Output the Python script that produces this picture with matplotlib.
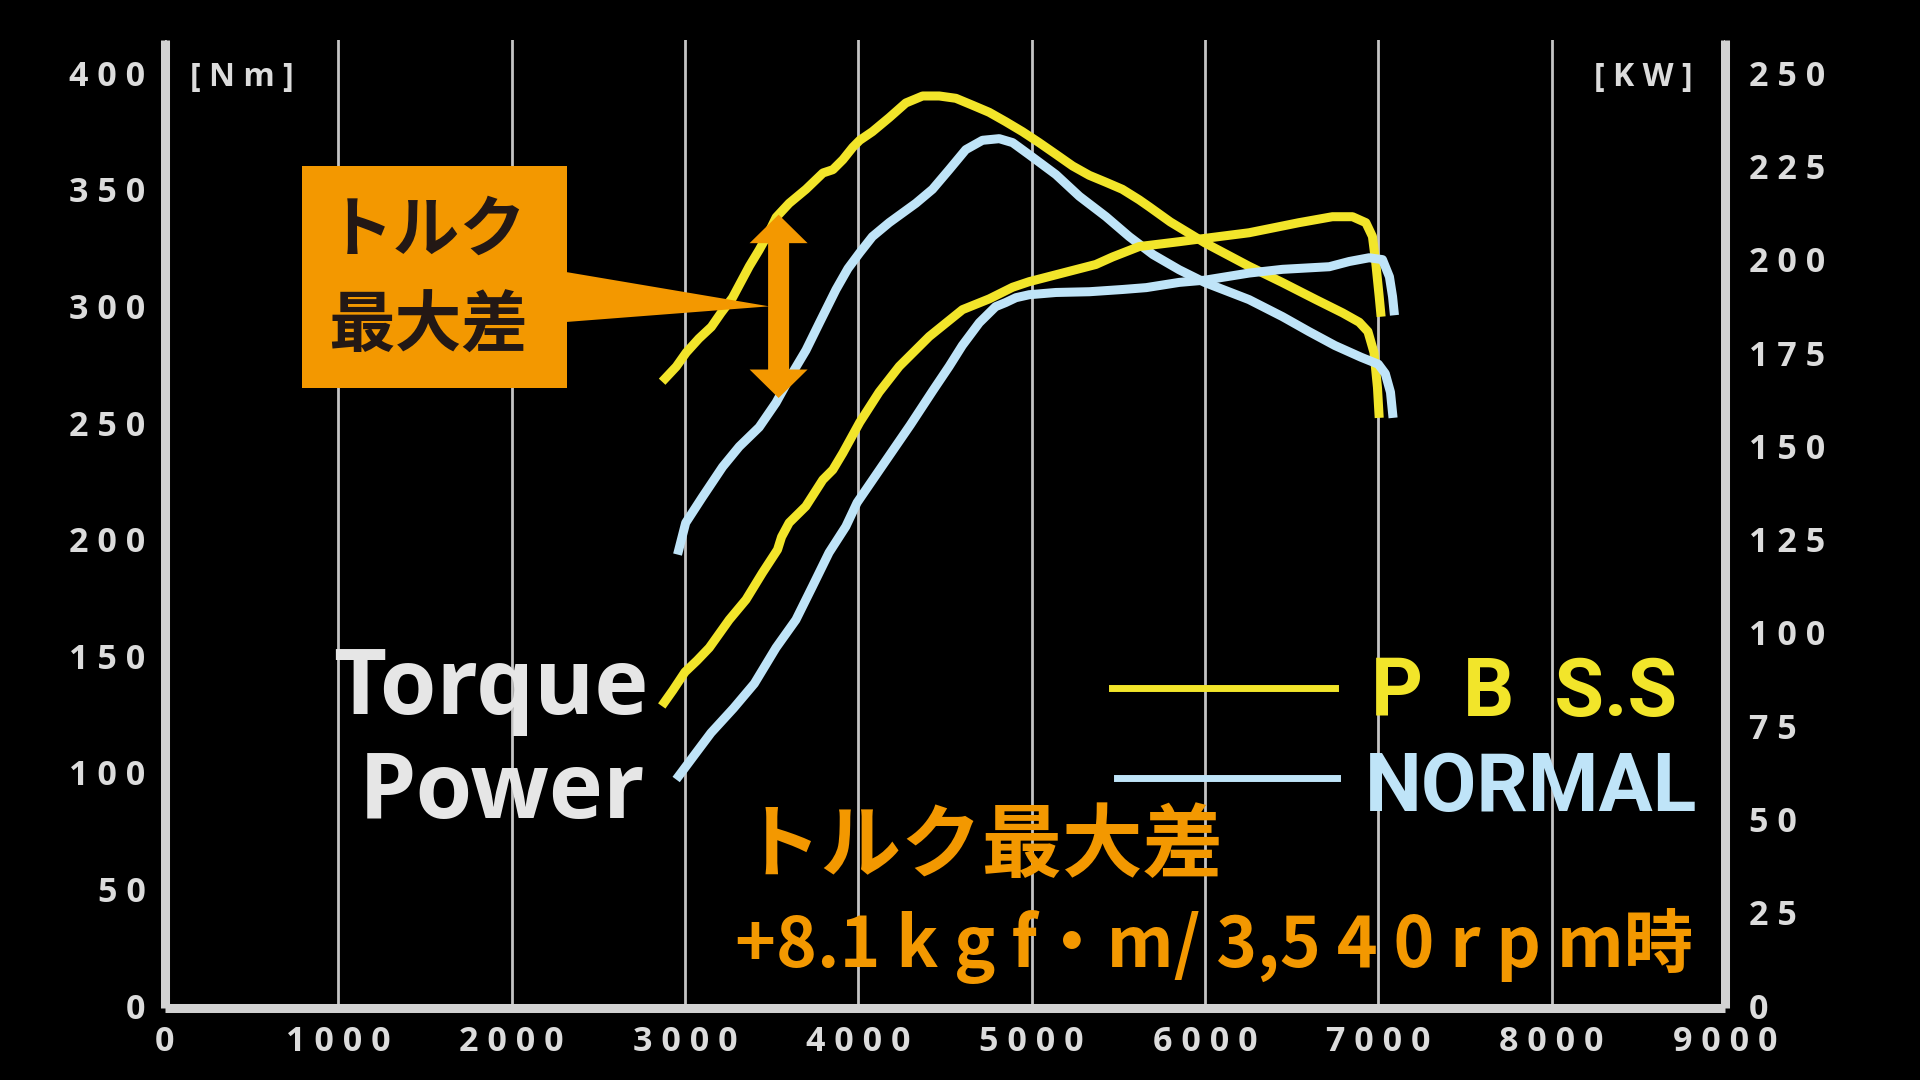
import numpy as np
import matplotlib
matplotlib.use("Agg")
import matplotlib.pyplot as plt
from matplotlib.patches import Polygon, Rectangle
from matplotlib.transforms import Affine2D
from matplotlib.lines import Line2D

# ---------------- data ----------------
rpm_ticks = list(range(0, 10000, 1000))
torque_ticks = list(range(0, 450, 50))
power_ticks = list(range(0, 275, 25))

pbss_torque_rpm = [2868, 2950, 3007, 3080, 3152, 3208, 3274, 3371, 3428, 3480, 3526, 3601, 3698,
                   3796, 3853, 3911, 3968, 4008, 4081, 4178, 4274, 4371, 4467, 4563, 4660, 4755,
                   4850, 4947, 5043, 5140, 5236, 5332, 5429, 5523, 5620, 5678, 5800, 6000, 6254,
                   6447, 6640, 6794, 6890, 6940, 6975, 6995, 7005]
pbss_torque = [267.5, 274, 280, 286, 291, 297, 303.5, 317, 324, 331, 338, 344, 350,
               357, 358.4, 362.7, 368, 371, 374.7, 380.7, 387, 390, 390, 389, 386, 383,
               379, 374.7, 370, 365, 360, 356, 353, 350, 345.5, 342.5, 336, 327, 317,
               310, 302.7, 297, 293, 289, 280, 265, 252]

normal_torque_rpm = [2957, 3004, 3100, 3217, 3313, 3428, 3525, 3621, 3698, 3776, 3871, 3940,
                     4008, 4081, 4178, 4332, 4428, 4524, 4620, 4716, 4813, 4890, 4986, 5140,
                     5275, 5428, 5563, 5700, 5851, 6000, 6254, 6447, 6600, 6750, 6900, 7000,
                     7040, 7070, 7085]
normal_torque = [193.4, 207, 218, 231, 239.7, 248, 258.5, 271.4, 281, 292.8, 307, 316,
                 322.8, 329.7, 335.7, 344, 350, 358.4, 367, 371, 371.7, 370, 364.8, 356.3,
                 347, 338.3, 329.7, 322, 315.5, 310, 302.7, 295.4, 289, 283, 278, 275,
                 271, 263, 252]

pbss_power_rpm = [2866, 2930, 3000, 3070, 3140, 3255, 3352, 3447, 3534, 3557, 3601, 3697, 3795,
                  3853, 3911, 4008, 4120, 4236, 4409, 4601, 4756, 4890, 4986, 5178, 5370, 5466,
                  5620, 5850, 6000, 6254, 6542, 6735, 6851, 6928, 6966, 6985, 7005, 7016]
pbss_power = [80.3, 84.5, 89.4, 92.5, 95.9, 103.4, 108.8, 116.0, 122.2, 125.6, 129.4, 133.8, 140.9,
              143.6, 148.1, 156.3, 164.4, 171.3, 179.3, 186.5, 189.4, 192.5, 194.0, 196.3, 198.6, 200.6,
              203.4, 204.7, 205.6, 207.1, 209.8, 211.4, 211.4, 209.8, 206.1, 199.1, 190.0, 184.6]

normal_power_rpm = [2949, 3050, 3150, 3280, 3400, 3525, 3640, 3735, 3831, 3928, 3993, 4130, 4300,
                    4430, 4524, 4600, 4698, 4792, 4850, 4909, 4986, 5140, 5333, 5525, 5661, 5851,
                    6000, 6254, 6447, 6717, 6832, 6947, 7024, 7064, 7082, 7093]
normal_power = [60.6, 66.9, 73.1, 79.7, 86.3, 95.9, 103.4, 112.3, 121.4, 128.4, 134.8, 144.1, 155.6,
                164.8, 171.3, 176.9, 183.0, 187.3, 188.4, 189.7, 190.5, 191.1, 191.3, 191.9, 192.4, 193.8,
                194.4, 196.3, 197.3, 198.0, 199.4, 200.4, 199.9, 195.3, 190.0, 185.0]

diff_rpm = 3540
series_labels = ["P  B  S.S", "NORMAL"]

# ---------------- style ----------------
YELLOW = "#f2e52a"
BLUE = "#bfe4f8"
ORANGE = "#f39800"
GRAY = "#dcdcdc"
GRID = "#c4c4c4"
DARK = "#231815"
JP = ["Noto Sans CJK JP", "DejaVu Sans"]
LAT = ["Open Sans", "DejaVu Sans"]
ROB = ["Roboto", "DejaVu Sans"]

W, H = 1920, 1080
fig = plt.figure(figsize=(19.2, 10.8), dpi=100, facecolor="black")
PX = Affine2D().scale(1 / W, -1 / H).translate(0, 1) + fig.transFigure  # image pixels, y down

ax = fig.add_axes([165 / W, 1 - 1008 / H, 1560 / W, (1008 - 40) / H])
ax.set_facecolor("black")
ax.set_xlim(0, 9000)
ax.set_ylim(-1, 414)
ax2 = ax.twinx()
ax2.set_ylim(-1 * 0.625, 414 * 0.625)

for a in (ax, ax2):
    for s in a.spines.values():
        s.set_visible(False)
for side in ("left", "bottom", "right"):
    sp = ax.spines[side]
    sp.set_visible(True)
    sp.set_color("#d2d2d2")
    sp.set_linewidth(6.5)
    sp.set_capstyle("butt")

ax.set_xticks(rpm_ticks)
ax.set_xticklabels([" ".join(str(v)) if v else "0" for v in rpm_ticks])
ax.set_yticks(torque_ticks)
ax.set_yticklabels([" ".join(str(v)) for v in torque_ticks])
ax2.set_yticks(power_ticks)
ax2.set_yticklabels([" ".join(str(v)) for v in power_ticks])
ax.tick_params(axis="x", length=0, pad=12, labelsize=24.5, labelcolor=GRAY)
ax.tick_params(axis="y", length=0, pad=14, labelsize=24.5, labelcolor=GRAY)
ax2.tick_params(axis="y", length=0, pad=17, labelsize=24.5, labelcolor=GRAY)
for lab in ax.get_xticklabels() + ax.get_yticklabels() + ax2.get_yticklabels():
    lab.set_fontfamily(LAT)
    lab.set_fontweight("bold")

ax.grid(axis="x", color=GRID, linewidth=2.0, zorder=0)
ax.grid(axis="y", visible=False)
ax.set_axisbelow(True)

lw = 6.5
ax.plot(pbss_torque_rpm, pbss_torque, color=YELLOW, lw=lw, solid_capstyle="butt", zorder=3)
ax.plot(normal_torque_rpm, normal_torque, color=BLUE, lw=lw, solid_capstyle="butt", zorder=3)
ax2.plot(pbss_power_rpm, pbss_power, color=YELLOW, lw=lw, solid_capstyle="butt", zorder=3)
ax2.plot(normal_power_rpm, normal_power, color=BLUE, lw=lw, solid_capstyle="butt", zorder=3)

# unit labels
fig.text(190 / W, 1 - 77 / H, "[ N m ]", color=GRAY, fontsize=23, fontweight="bold",
         family=LAT, ha="left", va="center")
fig.text(1693 / W, 1 - 77 / H, "[ K W ]", color=GRAY, fontsize=23, fontweight="bold",
         family=LAT, ha="right", va="center")

# ---------------- torque difference arrow ----------------
top = np.interp(diff_rpm, pbss_torque_rpm, pbss_torque)
bot = np.interp(diff_rpm, normal_torque_rpm, normal_torque)
fig.canvas.draw()
xc, ytop = ax.transData.transform((diff_rpm, top))
_, ybot = ax.transData.transform((diff_rpm, bot))
ytop = H - ytop
ybot = H - ybot
sw, hw, hl = 10.5, 29, 28.5
arrow = [(xc, ytop), (xc + hw, ytop + hl), (xc + sw, ytop + hl), (xc + sw, ybot - hl),
         (xc + hw, ybot - hl), (xc, ybot), (xc - hw, ybot - hl), (xc - sw, ybot - hl),
         (xc - sw, ytop + hl), (xc - hw, ytop + hl)]
fig.patches.append(Polygon(arrow, closed=True, transform=PX, facecolor=ORANGE,
                           edgecolor="none", zorder=5))
ymid = (ytop + ybot) / 2
fig.patches.append(Polygon([(566, 272), (xc - sw + 1, ymid), (566, 322)], closed=True,
                           transform=PX, facecolor=ORANGE, edgecolor="none", zorder=5))
fig.patches.append(Rectangle((302, 166), 265, 222, transform=PX, facecolor=ORANGE,
                             edgecolor="none", zorder=5))
fig.text(427 / W, 1 - 231 / H, "トルク", color=DARK, fontsize=48, fontweight="bold",
         family=JP, ha="center", va="center", zorder=6)
fig.text(428 / W, 1 - 327 / H, "最大差", color=DARK, fontsize=48, fontweight="bold",
         family=JP, ha="center", va="center", zorder=6)

# ---------------- labels ----------------
fig.text(649 / W, 1 - 714 / H, "Torque", color="#e6e6e6", fontsize=66, fontweight="bold",
         family=LAT, ha="right", va="baseline")
fig.text(645 / W, 1 - 818 / H, "Power", color="#e6e6e6", fontsize=66, fontweight="bold",
         family=LAT, ha="right", va="baseline")

# legend
fig.lines.append(Line2D([1112 / W, 1335 / W], [1 - 688 / H, 1 - 688 / H], color=YELLOW, lw=5,
                        transform=fig.transFigure))
fig.lines.append(Line2D([1117 / W, 1337 / W], [1 - 778 / H, 1 - 778 / H], color=BLUE, lw=5,
                        transform=fig.transFigure))
fig.text(1371 / W, 1 - 716 / H, series_labels[0], color=YELLOW, fontsize=58, fontweight="bold",
         family=ROB, ha="left", va="baseline")
fig.text(1365 / W, 1 - 811 / H, series_labels[1], color=BLUE, fontsize=58, fontweight="bold",
         family=ROB, ha="left", va="baseline")

fig.text(741 / W, 1 - 847 / H, "トルク最大差", color=ORANGE, fontsize=58, fontweight="bold",
         family=JP, ha="left", va="center")
fig.text(735 / W, 1 - 967 / H, "+8.1 k g f・m/ 3,5 4 0 r p m時", color=ORANGE, fontsize=50,
         fontweight="bold", family=JP, ha="left", va="baseline")

fig.savefig("out.png", dpi=100, facecolor="black")
